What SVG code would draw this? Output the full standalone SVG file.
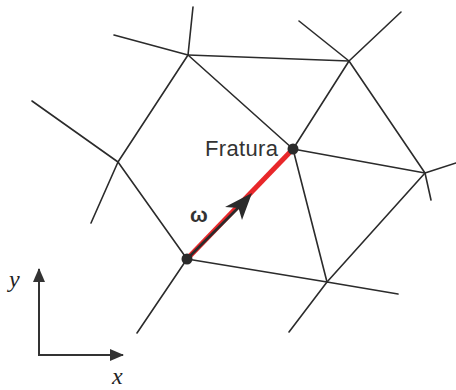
<svg xmlns="http://www.w3.org/2000/svg" width="456" height="390" viewBox="0 0 456 390">
<style>
.e{stroke:#2b2b2b;stroke-width:1.6;fill:none;stroke-linecap:round}
.n{fill:#2b2b2b}
.ax{stroke:#333;stroke-width:2;fill:none}
</style>
<defs>
<marker id="ah" viewBox="0 0 14 12" refX="13" refY="6" markerWidth="14" markerHeight="12" markerUnits="userSpaceOnUse" orient="auto">
<path d="M0,0 L14,6 L0,12 Z" fill="#333"/>
</marker>
</defs>
<rect width="456" height="390" fill="#fff"/>
<g id="connectors">
<line class="e" x1="188" y1="55" x2="193" y2="7"/>
<line class="e" x1="188" y1="55" x2="114" y2="35"/>
<line class="e" x1="188" y1="55" x2="349" y2="61"/>
<line class="e" x1="188" y1="55" x2="293" y2="149"/>
<line class="e" x1="188" y1="55" x2="118" y2="162"/>
<line class="e" x1="349" y1="61" x2="299" y2="21"/>
<line class="e" x1="349" y1="61" x2="401" y2="12"/>
<line class="e" x1="349" y1="61" x2="293" y2="149"/>
<line class="e" x1="349" y1="61" x2="425" y2="173"/>
<line class="e" x1="118" y1="162" x2="32" y2="101"/>
<line class="e" x1="118" y1="162" x2="91" y2="223"/>
<line class="e" x1="118" y1="162" x2="187" y2="259"/>
<line class="e" x1="293" y1="149" x2="425" y2="173"/>
<line class="e" x1="293" y1="149" x2="327" y2="282"/>
<line class="e" x1="425" y1="173" x2="456" y2="163"/>
<line class="e" x1="425" y1="173" x2="431" y2="200"/>
<line class="e" x1="425" y1="173" x2="327" y2="282"/>
<line class="e" x1="187" y1="259" x2="137" y2="333"/>
<line class="e" x1="187" y1="259" x2="327" y2="282"/>
<line class="e" x1="327" y1="282" x2="398" y2="294"/>
<line class="e" x1="327" y1="282" x2="289" y2="332"/>
<line id="fratura-edge" x1="187" y1="259" x2="293" y2="149" stroke="#e8272a" stroke-width="5"/>
<line x1="187" y1="259" x2="240" y2="206" stroke="#2b2b2b" stroke-width="2.6"/>
<path id="omega-arrow" d="M252,193 L225,207 L238.5,208 L242,220 Z" fill="#2b2b2b"/>
</g>
<g id="nFratura"><circle class="n" cx="293" cy="149" r="5.5"/><text x="205" y="156" font-family="Liberation Sans, Arial, sans-serif" font-size="22" fill="#333" textLength="73">Fratura</text></g>
<g id="nF"><circle class="n" cx="187" cy="259" r="5.5"/></g>
<g id="omega"><text x="190" y="222" font-family="Liberation Sans, Arial, sans-serif" font-weight="bold" font-size="21" fill="#333" textLength="19">ω</text></g>
<g id="axes">
<line class="ax" x1="39" y1="355" x2="39" y2="269" marker-end="url(#ah)"/>
<line class="ax" x1="38" y1="355" x2="123" y2="355" marker-end="url(#ah)"/>
<text x="9" y="287" font-family="Liberation Serif, Times New Roman, serif" font-style="italic" font-size="24" fill="#222">y</text>
<text x="112" y="384" font-family="Liberation Serif, Times New Roman, serif" font-style="italic" font-size="24" fill="#222">x</text>
</g>
</svg>
